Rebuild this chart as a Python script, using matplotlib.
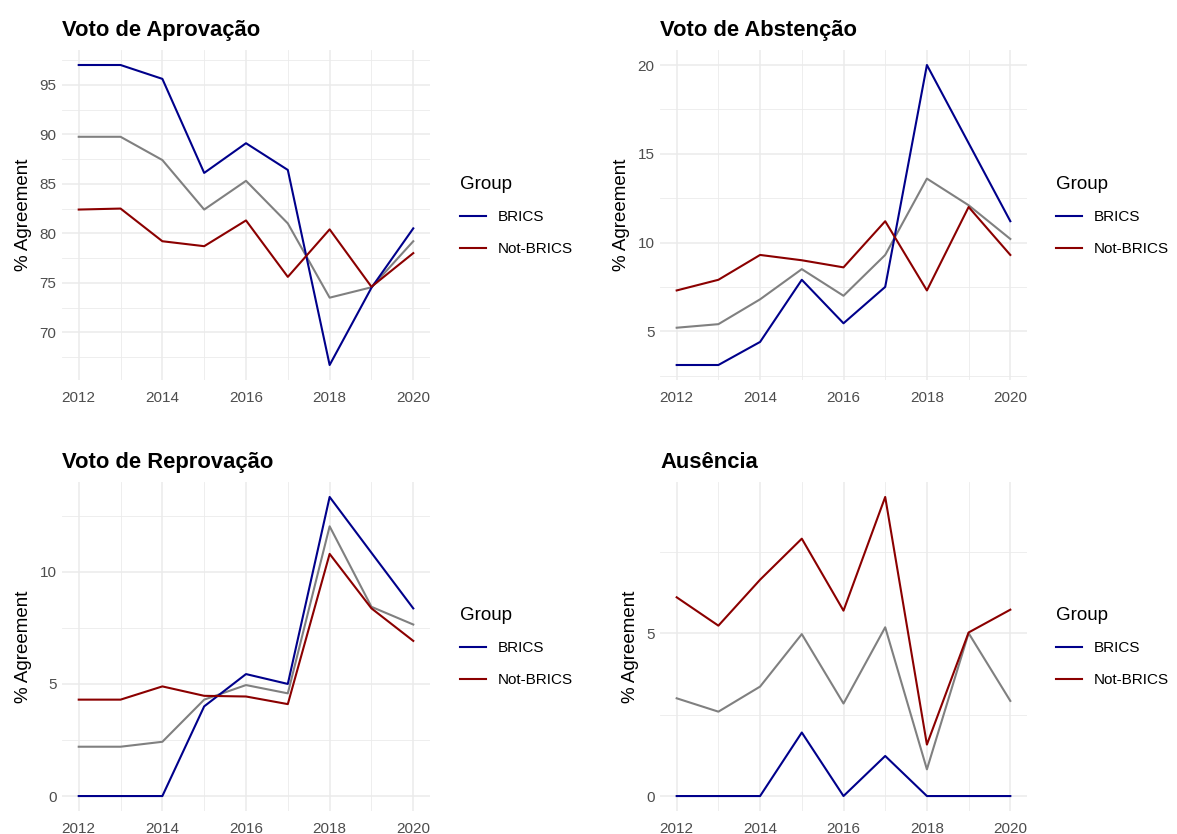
import matplotlib
matplotlib.use("Agg")
import matplotlib.pyplot as plt
from matplotlib.ticker import MultipleLocator

plt.rcParams['font.family'] = ['Liberation Sans', 'DejaVu Sans']

years = [2012, 2013, 2014, 2015, 2016, 2017, 2018, 2019, 2020]

# Voto de Aprovação
aprov_brics = [97.0, 97.0, 95.6, 86.1, 89.1, 86.4, 66.7, 74.5, 80.5]
aprov_not = [82.4, 82.5, 79.2, 78.7, 81.3, 75.6, 80.4, 74.6, 78.0]
aprov_all = [89.75, 89.75, 87.4, 82.4, 85.3, 81.0, 73.5, 74.55, 79.2]

# Voto de Abstenção
abst_brics = [3.1, 3.1, 4.4, 7.9, 5.45, 7.5, 20.0, 15.6, 11.2]
abst_not = [7.3, 7.9, 9.3, 9.0, 8.6, 11.2, 7.3, 12.0, 9.3]
abst_all = [5.2, 5.4, 6.8, 8.5, 7.0, 9.3, 13.6, 12.1, 10.2]

# Voto de Reprovação
repr_brics = [0, 0, 0, 4.0, 5.44, 5.0, 13.34, 10.85, 8.37]
repr_not = [4.3, 4.3, 4.89, 4.47, 4.44, 4.1, 10.8, 8.37, 6.92]
repr_all = [2.2, 2.2, 2.42, 4.3, 4.95, 4.58, 12.03, 8.44, 7.65]

# Ausência
aus_brics = [0, 0, 0, 1.95, 0, 1.23, 0, 0, 0]
aus_not = [6.1, 5.23, 6.64, 7.9, 5.69, 9.18, 1.58, 5.02, 5.72]
aus_all = [3.0, 2.59, 3.36, 4.97, 2.84, 5.18, 0.82, 5.0, 2.92]

titles = ["Voto de Aprovação", "Voto de Abstenção", "Voto de Reprovação", "Ausência"]
panels = [
    (aprov_brics, aprov_not, aprov_all),
    (abst_brics, abst_not, abst_all),
    (repr_brics, repr_not, repr_all),
    (aus_brics, aus_not, aus_all),
]
groups = ["BRICS", "Not-BRICS"]
col_brics = "#00008B"
col_not = "#8B0000"
col_all = "#808080"
grid_col = "#EBEBEB"
txt_col = "#4D4D4D"

W, H = 1177, 834
fig = plt.figure(figsize=(W / 100, H / 100), dpi=100)

# panel boxes in pixels: left, top, right, bottom
boxes = [(62, 50, 430, 380), (660, 50, 1027, 380),
         (62, 482, 430, 811), (660, 482, 1027, 811)]
legend_tops = [162, 593]

for i, (title, (b, n, a), box) in enumerate(zip(titles, panels, boxes)):
    l, t, r, bt = box
    ax = fig.add_axes([l / W, 1 - bt / H, (r - l) / W, (bt - t) / H])
    ax.plot(years, a, color=col_all, lw=1.5, zorder=3)
    lb, = ax.plot(years, b, color=col_brics, lw=1.5, zorder=4)
    ln, = ax.plot(years, n, color=col_not, lw=1.5, zorder=4)

    lo = min(min(b), min(n), min(a))
    hi = max(max(b), max(n), max(a))
    pad = (hi - lo) * 0.05
    ax.set_ylim(lo - pad, hi + pad)
    ax.set_xlim(2012 - 0.4, 2020 + 0.4)

    ax.xaxis.set_major_locator(MultipleLocator(2))
    ax.xaxis.set_minor_locator(MultipleLocator(1))
    ax.yaxis.set_major_locator(MultipleLocator(5))
    ax.yaxis.set_minor_locator(MultipleLocator(2.5))
    ax.grid(which='major', color=grid_col, lw=1.1, zorder=0)
    ax.grid(which='minor', color=grid_col, lw=0.6, zorder=0)
    for s in ax.spines.values():
        s.set_visible(False)
    ax.tick_params(which='both', length=0, labelsize=11, labelcolor=txt_col)
    ax.tick_params(axis='x', pad=8)
    ax.tick_params(axis='y', pad=4)
    ax.set_ylabel("% Agreement", fontsize=13.5, color="black", labelpad=5)
    ax.set_title(title, loc='left', fontsize=15.8, fontweight='bold', pad=10)

    lt = legend_tops[i // 2]
    lx = 446 if i % 2 == 0 else 1042
    fig.legend([lb, ln], groups, title="Group", loc='upper left',
               bbox_to_anchor=(lx / W, 1 - lt / H), frameon=False,
               alignment='left', fontsize=11, title_fontsize=13.5,
               handlelength=1.7, handletextpad=0.8, labelspacing=1.15)

fig.savefig("out.png", dpi=100, facecolor="white")
